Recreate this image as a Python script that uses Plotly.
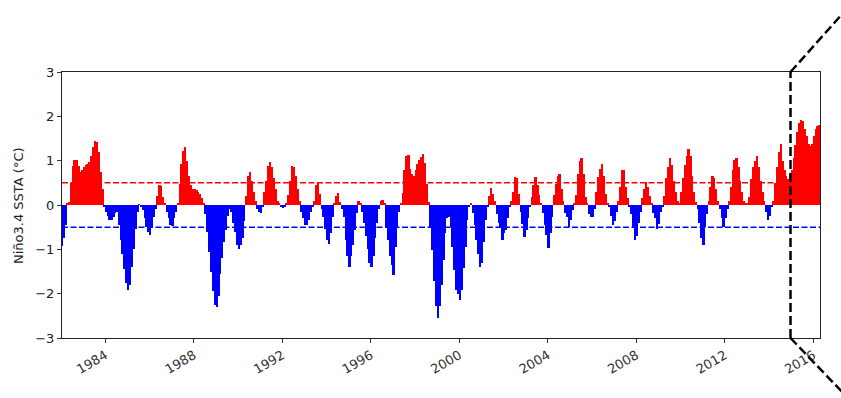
import plotly.graph_objects as go
from datetime import datetime

# ---------------- data ----------------
start_year = 1982
start_month = 1
# Monthly Niño3.4 SST anomalies (°C), Jan 1982 onward
ssta_values = [
    # 1982
    -0.92, -0.75, -0.45, 0.03, 0.07, 0.5, 0.87, 1.02, 1.02, 0.87, 0.75, 0.78,
    # 1983
    0.85, 0.9, 0.93, 0.96, 1.1, 1.3, 1.44, 1.42, 1.2, 0.74, 0.37, -0.05,
    # 1984
    -0.15, -0.25, -0.33, -0.33, -0.27, -0.18, -0.15, -0.45, -0.8, -1.1, -1.45, -1.75,
    # 1985
    -1.91, -1.8, -1.4, -1.0, -0.55, -0.15, 0.02, -0.03, -0.12, -0.3, -0.5, -0.62,
    # 1986
    -0.68, -0.5, -0.27, -0.08, 0.2, 0.46, 0.42, 0.19, 0.03, -0.15, -0.3, -0.45,
    # 1987
    -0.48, -0.3, -0.15, 0.04, 0.48, 0.93, 1.22, 1.3, 1.0, 0.66, 0.44, 0.37,
    # 1988
    0.35, 0.33, 0.3, 0.25, 0.16, 0.05, -0.2, -0.6, -1.05, -1.5, -1.95, -2.25,
    # 1989
    -2.3, -2.05, -1.55, -1.2, -0.83, -0.57, -0.25, -0.08, -0.15, -0.4, -0.6, -0.9,
    # 1990
    -1.0, -0.9, -0.75, -0.35, 0.2, 0.66, 0.74, 0.55, 0.3, 0.1, -0.1, -0.15,
    # 1991
    -0.19, -0.05, 0.3, 0.55, 0.87, 0.96, 0.85, 0.6, 0.35, 0.1, 0.03, -0.04,
    # 1992
    -0.06, -0.03, 0.03, 0.22, 0.55, 0.87, 0.85, 0.66, 0.37, 0.1, -0.16, -0.3,
    # 1993
    -0.45, -0.45, -0.34, -0.16, -0.05, 0.1, 0.44, 0.51, 0.25, -0.1, -0.27, -0.53,
    # 1994
    -0.79, -0.87, -0.64, -0.27, 0.04, 0.2, 0.27, 0.07, -0.1, -0.27, -0.79, -1.16,
    # 1995
    -1.39, -1.16, -0.9, -0.57, -0.19, 0.1, 0.05, -0.15, -0.4, -0.7, -1.0, -1.3,
    # 1996
    -1.39, -1.15, -0.75, -0.4, -0.1, 0.1, 0.12, 0.05, -0.5, -0.8, -1.15, -1.35,
    # 1997
    -1.57, -0.94, -0.5, -0.15, 0.05, 0.27, 0.78, 1.11, 1.13, 0.81, 0.7, 0.65,
    # 1998
    0.78, 0.93, 1.01, 1.08, 1.15, 0.95, 0.48, 0.07, -0.5, -1.01, -1.72, -2.28,
    # 1999
    -2.56, -2.28, -1.8, -1.24, -0.64, -0.3, -0.27, -0.5, -0.94, -1.46, -1.91, -2.0,
    # 2000
    -2.15, -1.91, -1.43, -0.94, -0.34, -0.04, 0.03, -0.19, -0.45, -0.79, -1.1, -1.39,
    # 2001
    -1.3, -0.83, -0.34, -0.05, 0.2, 0.39, 0.25, 0.08, -0.2, -0.4, -0.5, -0.79,
    # 2002
    -0.64, -0.57, -0.3, -0.05, 0.1, 0.29, 0.63, 0.6, 0.25, -0.16, -0.42, -0.72,
    # 2003
    -0.57, -0.3, -0.05, 0.18, 0.44, 0.63, 0.44, 0.22, 0.03, -0.19, -0.45, -0.68,
    # 2004
    -0.98, -0.64, -0.27, 0.22, 0.48, 0.66, 0.7, 0.37, 0.1, -0.19, -0.27, -0.49,
    # 2005
    -0.34, -0.12, 0.05, 0.22, 0.7, 1.0, 1.07, 0.7, 0.18, 0.03, -0.2, -0.28,
    # 2006
    -0.28, -0.1, 0.29, 0.63, 0.81, 0.93, 0.66, 0.25, 0.05, -0.05, -0.25, -0.45,
    # 2007
    -0.35, -0.15, 0.1, 0.4, 0.8, 0.78, 0.4, 0.15, -0.04, -0.2, -0.5, -0.8,
    # 2008
    -0.7, -0.4, -0.15, 0.15, 0.35, 0.51, 0.4, 0.2, 0.05, -0.19, -0.3, -0.53,
    # 2009
    -0.42, -0.15, -0.03, 0.2, 0.6, 0.85, 1.07, 0.9, 0.55, 0.3, 0.1, 0.05,
    # 2010
    0.3, 0.6, 0.9, 1.1, 1.26, 1.1, 0.66, 0.3, 0.07, -0.1, -0.4, -0.75,
    # 2011
    -0.9, -0.5, -0.2, 0.1, 0.4, 0.66, 0.6, 0.37, 0.1, -0.1, -0.3, -0.49,
    # 2012
    -0.3, -0.1, 0.1, 0.4, 0.8, 1.02, 1.07, 0.85, 0.55, 0.3, 0.1, 0.03,
    # 2013
    0.03, 0.18, 0.59, 0.85, 1.0, 1.11, 0.85, 0.55, 0.3, 0.1, -0.16, -0.34,
    # 2014
    -0.25, -0.05, 0.1, 0.5, 0.85, 1.2, 1.37, 1.0, 0.78, 0.66, 0.58, 0.7,
    # 2015
    0.78, 1.05, 1.35, 1.65, 1.85, 1.92, 1.9, 1.72, 1.55, 1.38, 1.32, 1.38,
    # 2016
    1.55, 1.72, 1.78, 1.8,
]
upper_threshold = 0.5
lower_threshold = -0.5
tick_years = [1984, 1988, 1992, 1996, 2000, 2004, 2008, 2012, 2016]
y_ticks = [-3, -2, -1, 0, 1, 2, 3]
inset_start = "2014-12-20"
x_range = ["1982-01-14", "2016-04-20"]

# ---------------- build ----------------
dates = []
for i in range(len(ssta_values)):
    y = start_year + (start_month - 1 + i) // 12
    m = (start_month - 1 + i) % 12 + 1
    dates.append(f"{y:04d}-{m:02d}-15")

colors = ["#ff0000" if v >= 0 else "#0000ff" for v in ssta_values]
month_ms = 30.6 * 24 * 3600 * 1000

fig = go.Figure()
fig.add_trace(go.Bar(
    x=dates, y=ssta_values, marker=dict(color=colors, line=dict(width=0)),
    width=month_ms, showlegend=False, hoverinfo="x+y",
))

# threshold lines
fig.add_shape(type="line", xref="paper", yref="y", x0=0, x1=1,
              y0=upper_threshold, y1=upper_threshold,
              line=dict(color="#ff0000", width=1.5, dash="6px,2.5px"), layer="above")
fig.add_shape(type="line", xref="paper", yref="y", x0=0, x1=1,
              y0=lower_threshold, y1=lower_threshold,
              line=dict(color="#0000ff", width=1.5, dash="6px,2.5px"), layer="above")

# inset marker (vertical dashed line + connectors)
t0 = datetime.fromisoformat(x_range[0])
t1 = datetime.fromisoformat(x_range[1])
ti = datetime.fromisoformat(inset_start)
fx = (ti - t0) / (t1 - t0)
black_dash = dict(color="black", width=2.5, dash="9px,4px")
fig.add_shape(type="line", xref="x", yref="paper", x0=inset_start, x1=inset_start,
              y0=0, y1=1, line=black_dash, layer="above")
fig.add_shape(type="line", xref="paper", yref="paper", x0=fx, y0=1,
              x1=fx + 0.092, y1=1.294, line=black_dash, layer="above")
fig.add_shape(type="line", xref="paper", yref="paper", x0=fx, y0=0,
              x1=fx + 0.092, y1=-0.274, line=black_dash, layer="above")

fig.update_layout(
    width=841, height=398,
    margin=dict(l=62, r=21, t=72, b=60),
    paper_bgcolor="white", plot_bgcolor="white",
    bargap=0,
    font=dict(family="DejaVu Sans", size=13, color="#222"),
    xaxis=dict(
        type="date", range=x_range,
        tickmode="array",
        tickvals=[f"{y}-01-01" for y in tick_years],
        ticktext=[str(y) for y in tick_years],
        tickangle=-30, ticks="outside", ticklen=4, tickcolor="#333",
        showgrid=False, zeroline=False,
        showline=True, linecolor="#222", linewidth=1, mirror=True,
        tickfont=dict(size=13, color="#333"),
    ),
    yaxis=dict(
        range=[-3, 3], tickmode="array", tickvals=y_ticks,
        ticks="outside", ticklen=4, tickcolor="#333",
        showgrid=False, zeroline=False,
        showline=True, linecolor="#222", linewidth=1, mirror=True,
        tickfont=dict(size=13, color="#222"),
    ),
    annotations=[dict(
        text="Niño3.4 SSTA (°C)", textangle=-90,
        xref="paper", yref="paper", x=(18 - 62) / 757.4, y=0.5,
        xanchor="center", yanchor="middle", showarrow=False,
        font=dict(size=13, color="#222"),
    )],
)

fig.write_html(
    "out.html",
    config={"displayModeBar": False},
    post_script="document.body.style.margin='0';document.body.style.padding='0';",
)
